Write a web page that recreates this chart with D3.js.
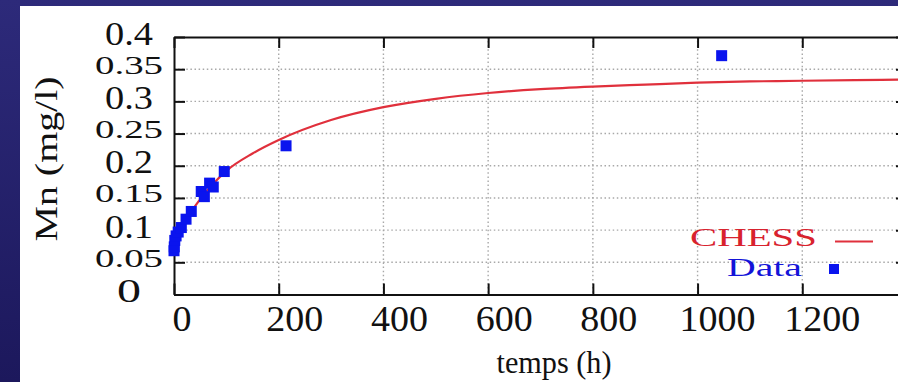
<!DOCTYPE html>
<html>
<head>
<meta charset="utf-8">
<script src="https://cdn.jsdelivr.net/npm/d3@7"></script>
<style>
  html, body { margin: 0; padding: 0; background: #241f6a; }
  svg { display: block; }
  text { font-family: "Liberation Serif", "DejaVu Serif", "Times New Roman", serif; }
</style>
</head>
<body>
<svg id="chart" width="898" height="382"></svg>
<script>
// Measured manganese concentration (mg/l) against time (h)
const timeH      = [0, 0.5, 1.5, 4, 8, 14, 23, 33, 52, 58, 68, 75, 96, 214, 1046];
const mnMeasured = [0.068, 0.074, 0.084, 0.091, 0.097, 0.104, 0.117, 0.129, 0.160, 0.152, 0.173, 0.167, 0.191, 0.231, 0.371];

// CHESS model output
const modelTime = [0, 5, 10, 25, 50, 75, 100, 150, 200, 300, 400, 500, 600, 700, 800, 900, 1000, 1100, 1200, 1300, 1400];
const modelMn   = [0.070, 0.083, 0.094, 0.118, 0.148, 0.172, 0.192, 0.219, 0.240, 0.271, 0.291, 0.304, 0.313, 0.319, 0.323, 0.326, 0.329, 0.331, 0.332, 0.333, 0.334];

// Axis ticks and labels
const xTicks = [0, 200, 400, 600, 800, 1000, 1200];
const yTicks = [0, 0.05, 0.1, 0.15, 0.2, 0.25, 0.3, 0.35, 0.4];
const yTickLabels = ["0", "0.05", "0.1", "0.15", "0.2", "0.25", "0.3", "0.35", "0.4"];

const legendNames = ["CHESS", "Data"];
const xTitle = "temps (h)";
const yTitle = "Mn (mg/l)";

const svg = d3.select("#chart");
const W = 898, H = 382;

// Slide-style backdrop with white panel
const defs = svg.append("defs");
const grad = defs.append("linearGradient").attr("id", "bg").attr("x1", 0).attr("y1", 0).attr("x2", 0).attr("y2", 1);
grad.append("stop").attr("offset", "0%").attr("stop-color", "#2d2a7a");
grad.append("stop").attr("offset", "100%").attr("stop-color", "#1c185c");
svg.append("rect").attr("width", W).attr("height", H).attr("fill", "url(#bg)");
svg.append("rect").attr("x", 20).attr("y", 6).attr("width", W - 20).attr("height", H - 6).attr("fill", "#ffffff");

const x = d3.scaleLinear().domain([0, 1400]).range([174, 907]);
const y = d3.scaleLinear().domain([0, 0.4]).range([294.5, 37]);

const [x0, x1] = x.range();
const [y0, y1] = y.range();

defs.append("clipPath").attr("id", "plotClip")
  .append("rect").attr("x", x0).attr("y", y1).attr("width", x1 - x0).attr("height", y0 - y1);

// Dotted grid
const grid = svg.append("g").attr("stroke", "#a8a8a8").attr("stroke-width", 1.4).attr("stroke-dasharray", "1.5,2.6");
grid.selectAll("line.h").data(yTicks.filter(v => v > 0 && v < 0.4)).join("line")
  .attr("x1", x0).attr("x2", x1).attr("y1", d => y(d)).attr("y2", d => y(d));
grid.selectAll("line.v").data(xTicks.filter(v => v > 0)).join("line")
  .attr("x1", d => x(d)).attr("x2", d => x(d)).attr("y1", y1).attr("y2", y0);

// Axes: ticks point inward, mirrored on top and right
const tickLen = 11;
function styleAxis(g) {
  g.selectAll("path.domain").attr("stroke", "#111").attr("stroke-width", 2);
  g.selectAll(".tick line").attr("stroke", "#111").attr("stroke-width", 2);
}
svg.append("g").attr("transform", `translate(0,${y0})`)
  .call(d3.axisBottom(x).tickValues(xTicks).tickSize(-tickLen).tickSizeOuter(0).tickFormat(""))
  .call(styleAxis);
svg.append("g").attr("transform", `translate(0,${y1})`)
  .call(d3.axisTop(x).tickValues(xTicks).tickSize(-tickLen).tickSizeOuter(0).tickFormat(""))
  .call(styleAxis);
svg.append("g").attr("transform", `translate(${x0},0)`)
  .call(d3.axisLeft(y).tickValues(yTicks).tickSize(-tickLen).tickSizeOuter(0).tickFormat(""))
  .call(styleAxis);
svg.append("g").attr("transform", `translate(${x1},0)`)
  .call(d3.axisRight(y).tickValues(yTicks).tickSize(-tickLen).tickSizeOuter(0).tickFormat(""))
  .call(styleAxis);

// X tick labels
svg.append("g").selectAll("text").data(xTicks).join("text")
  .attr("x", d => x(d) + 4 + 4 * String(d).length)
  .attr("y", 331)
  .attr("text-anchor", "middle")
  .attr("font-size", 35)
  .attr("textLength", d => String(d).length * 19)
  .attr("lengthAdjust", "spacingAndGlyphs")
  .attr("fill", "#111")
  .text(d => String(d));

// Y tick labels (centred in the left margin)
svg.append("g").selectAll("text").data(yTicks).join("text")
  .each(function (d, i) {
    const lab = yTickLabels[i];
    const fs = lab.length === 4 ? 25 : 34;
    const w = lab.length === 4 ? 68 : (lab.length === 3 ? 48 : 24);
    d3.select(this)
      .attr("x", 129)
      .attr("y", y(d) - 4 + 0.34 * fs)
      .attr("font-size", fs)
      .attr("textLength", w)
      .attr("lengthAdjust", "spacingAndGlyphs")
      .attr("text-anchor", "middle")
      .attr("fill", "#111")
      .text(lab);
  });

// Axis titles
svg.append("text")
  .attr("x", 554).attr("y", 373)
  .attr("text-anchor", "middle").attr("font-size", 32)
  .attr("textLength", 115).attr("lengthAdjust", "spacingAndGlyphs")
  .attr("fill", "#111").text(xTitle);
svg.append("text")
  .attr("transform", "translate(57,159) rotate(-90)")
  .attr("text-anchor", "middle").attr("font-size", 32)
  .attr("textLength", 165).attr("lengthAdjust", "spacingAndGlyphs")
  .attr("fill", "#111").text(yTitle);

// Model curve
const plot = svg.append("g").attr("clip-path", "url(#plotClip)");
const modelPts = modelTime.map((t, i) => [t, modelMn[i]]);
plot.append("path")
  .datum(modelPts)
  .attr("fill", "none")
  .attr("stroke", "#e0303c")
  .attr("stroke-width", 2.2)
  .attr("d", d3.line().x(d => x(d[0])).y(d => y(d[1])).curve(d3.curveMonotoneX));

// Measured points
const sq = 11;
svg.append("g").selectAll("rect").data(timeH.map((t, i) => [t, mnMeasured[i]])).join("rect")
  .attr("x", d => x(d[0]) - sq / 2)
  .attr("y", d => y(d[1]) - sq / 2)
  .attr("width", sq).attr("height", sq)
  .attr("fill", "#0a14ee");

// Legend
const leg = svg.append("g");
leg.append("text").attr("x", 817).attr("y", 246)
  .attr("text-anchor", "end").attr("font-size", 26)
  .attr("textLength", 127).attr("lengthAdjust", "spacingAndGlyphs")
  .attr("fill", "#d8222e").text(legendNames[0]);
leg.append("line").attr("x1", 835).attr("x2", 873).attr("y1", 241.5).attr("y2", 241.5)
  .attr("stroke", "#e0303c").attr("stroke-width", 2.2);
leg.append("text").attr("x", 802).attr("y", 276)
  .attr("text-anchor", "end").attr("font-size", 26)
  .attr("textLength", 75).attr("lengthAdjust", "spacingAndGlyphs")
  .attr("fill", "#1414d8").text(legendNames[1]);
leg.append("rect").attr("x", 829).attr("y", 264).attr("width", 10).attr("height", 10)
  .attr("fill", "#0a14ee");
</script>
</body>
</html>
